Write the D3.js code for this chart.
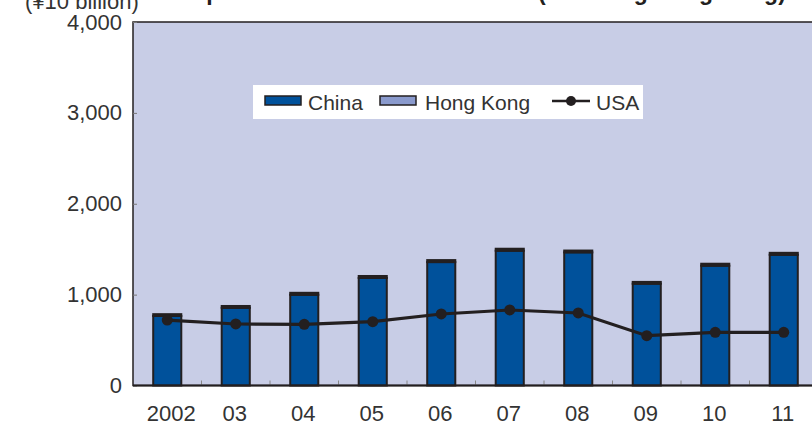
<!DOCTYPE html>
<html>
<head>
<meta charset="utf-8">
<script src="https://cdn.jsdelivr.net/npm/d3@7"></script>
<style>
  body { margin: 0; background: #fff; }
  svg { display: block; font-family: "Liberation Sans", Arial, sans-serif; }
</style>
</head>
<body>
<svg id="chart" width="812" height="424"></svg>
<script>
// values in ¥10 billion
const years = ["2002", "03", "04", "05", "06", "07", "08", "09", "10", "11"];
const china = [765, 855, 998, 1183, 1358, 1483, 1465, 1120, 1318, 1438];
const hongKong = [20, 20, 22, 22, 22, 22, 20, 20, 22, 22];
const usa = [720, 677, 673, 702, 787, 831, 798, 548, 585, 585];
const yTicks = [0, 1000, 2000, 3000, 4000];

const svg = d3.select("#chart");
const plotL = 133, plotR = 818, plotT = 22, plotB = 385.5;

const x = d3.scaleBand().domain(years).range([plotL, plotR]).padding(0);
const y = d3.scaleLinear().domain([0, 4000]).range([plotB, plotT]);
const barW = x.bandwidth() * 0.41;
const ink = "#231f20";

// plot background
svg.append("rect").attr("x", plotL).attr("y", plotT)
  .attr("width", plotR - plotL).attr("height", plotB - plotT)
  .attr("fill", "#c8cde6").attr("stroke", ink).attr("stroke-width", 1.5);

// y axis
const yAxis = svg.append("g").attr("transform", `translate(${plotL},0)`)
  .call(d3.axisLeft(y).tickValues(yTicks).tickSizeInner(-4).tickSizeOuter(0).tickPadding(11)
    .tickFormat(d3.format(",")));
yAxis.select(".domain").remove();
yAxis.selectAll("line").attr("stroke", "#777");
yAxis.selectAll("text").attr("font-size", 22).attr("fill", "#333")
  .attr("font-family", "Liberation Sans, Arial, sans-serif");

// category separators on the bottom
svg.append("g").selectAll("line").data(years.slice(1)).join("line")
  .attr("x1", d => x(d)).attr("x2", d => x(d))
  .attr("y1", plotB).attr("y2", plotB - 5)
  .attr("stroke", "#888").attr("stroke-width", 1);

// stacked bars
const bars = svg.append("g");
years.forEach((yr, i) => {
  const bx = x(yr) + (x.bandwidth() - barW) / 2;
  bars.append("rect").attr("x", bx).attr("width", barW)
    .attr("y", y(china[i])).attr("height", y(0) - y(china[i]))
    .attr("fill", "#00519b").attr("stroke", ink).attr("stroke-width", 2);
  bars.append("rect").attr("x", bx).attr("width", barW)
    .attr("y", y(china[i] + hongKong[i])).attr("height", y(china[i]) - y(china[i] + hongKong[i]))
    .attr("fill", "#8a9acd").attr("stroke", ink).attr("stroke-width", 2);
});

// x axis baseline
svg.append("line").attr("x1", plotL).attr("x2", plotR)
  .attr("y1", plotB).attr("y2", plotB)
  .attr("stroke", ink).attr("stroke-width", 2);

// USA line
const cx = d => x(d) + x.bandwidth() / 2;
svg.append("path").datum(years)
  .attr("d", d3.line().x(cx).y((d, i) => y(usa[i])))
  .attr("fill", "none").attr("stroke", ink).attr("stroke-width", 3.2);
svg.append("g").selectAll("circle").data(years).join("circle")
  .attr("cx", cx).attr("cy", (d, i) => y(usa[i])).attr("r", 5.5).attr("fill", ink);

// x labels
svg.append("g").selectAll("text").data(years).join("text")
  .attr("x", d => cx(d) + (d === "2002" ? 4 : -1)).attr("y", 421)
  .attr("text-anchor", "middle").attr("font-size", 22).attr("fill", "#333")
  .text(d => d);

// legend
const lg = svg.append("g");
lg.append("rect").attr("x", 253).attr("y", 85).attr("width", 390).attr("height", 34).attr("fill", "#fff");
lg.append("rect").attr("x", 265).attr("y", 96).attr("width", 36).attr("height", 9)
  .attr("fill", "#00519b").attr("stroke", ink).attr("stroke-width", 1.5);
lg.append("text").attr("x", 308).attr("y", 110).attr("font-size", 21).attr("fill", "#333").text("China");
lg.append("rect").attr("x", 380).attr("y", 96).attr("width", 36).attr("height", 9)
  .attr("fill", "#8a9acd").attr("stroke", ink).attr("stroke-width", 1.5);
lg.append("text").attr("x", 425).attr("y", 110).attr("font-size", 21).attr("fill", "#333").text("Hong Kong");
lg.append("line").attr("x1", 552).attr("x2", 590).attr("y1", 101).attr("y2", 101)
  .attr("stroke", ink).attr("stroke-width", 2.5);
lg.append("circle").attr("cx", 571).attr("cy", 101).attr("r", 5).attr("fill", ink);
lg.append("text").attr("x", 596).attr("y", 110).attr("font-size", 21).attr("fill", "#333").text("USA");

// unit and (cropped) title
svg.append("text").attr("x", 25).attr("y", 9).attr("font-size", 22).attr("fill", "#333").text("(¥10 billion)");
svg.append("text").attr("x", 178).attr("y", 0).attr("font-size", 23).attr("font-weight", "bold")
  .attr("fill", ink).text("Exports to China and the USA");
svg.append("text").attr("x", 538).attr("y", 0).attr("font-size", 23).attr("font-weight", "bold")
  .attr("fill", ink).text("(including Hong Kong)");
</script>
</body>
</html>
